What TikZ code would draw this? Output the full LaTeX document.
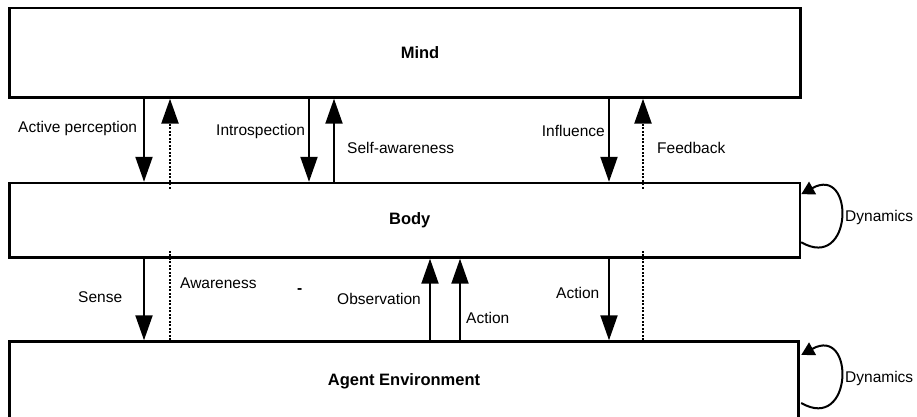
\documentclass[tikz,border=0pt]{standalone}
\usepackage{fontspec}
\setmainfont{Liberation Sans}
\usetikzlibrary{arrows.meta}
\begin{document}
\begin{tikzpicture}[x=1pt,y=1pt,
  box/.style={draw,line width=2.4pt,fill=white,inner sep=0pt,minimum width=791pt},
  arr/.style={line width=2pt,-{Triangle[width=17pt,length=25pt]}},
  dots/.style={line width=2.4pt,dash pattern=on 2pt off 1.5pt},
  darr/.style={dots,-{Triangle[width=17pt,length=25pt]}},
  loopar/.style={line width=2pt,-{Triangle[width=14pt,length=13pt]}},
  lbl/.style={inner sep=0pt,anchor=west,font=\fontsize{15.5}{18}\selectfont},
  title/.style={font=\fontsize{16.5}{19}\selectfont\bfseries}]
\useasboundingbox (0,0) rectangle (917,416);
% boxes
\node[box,minimum height=89.5pt,
  label={[title,xshift=15pt]center:Mind}] (mind) at (405,363.25) {};
\node[box,minimum width=790.5pt,minimum height=74.5pt,
  label={[title,xshift=5pt]center:Body}] (body) at (404.75,195.75) {};
\node[box,minimum width=789pt,minimum height=79pt,
  label={[title]center:Agent Environment}] (env) at (404,35) {};
% x positions
\coordinate (a1) at (144,0);
\coordinate (a2) at (170,0);
\coordinate (a3) at (309,0);
\coordinate (a4) at (334,0);
\coordinate (a5) at (609,0);
\coordinate (a6) at (643,0);
\coordinate (a7) at (430,0);
\coordinate (a8) at (460,0);
% mind <-> body
\draw[arr] (mind.south -| a1) -- (body.north -| a1);
\draw[darr] ([yshift=-7pt]body.north -| a2) -- (mind.south -| a2);
\draw[arr] (mind.south -| a3) -- (body.north -| a3);
\draw[arr] (body.north -| a4) -- (mind.south -| a4);
\draw[arr] (mind.south -| a5) -- (body.north -| a5);
\draw[darr] ([yshift=-7pt]body.north -| a6) -- (mind.south -| a6);
% body <-> env
\draw[arr] (body.south -| a1) -- (env.north -| a1);
\draw[dots] (env.north -| a2) -- ([yshift=8pt]body.south -| a2);
\draw[arr] (env.north -| a7) -- (body.south -| a7);
\draw[arr] (env.north -| a8) -- (body.south -| a8);
\draw[arr] (body.south -| a5) -- (env.north -| a5);
\draw[dots] (env.north -| a6) -- ([yshift=8pt]body.south -| a6);
% self loops
\draw[loopar] ([yshift=-22pt]body.east) .. controls +(52,-30) and +(54,30) .. ([yshift=26pt]body.east);
\draw[loopar] ([yshift=-22pt]env.east -| body.east) .. controls +(52,-30) and +(54,30) .. ([yshift=26pt]env.east -| body.east);
% labels
\node[lbl] (l1) at (18,288) {Active perception};
\node[lbl] (l2) at (216,285) {Introspection};
\node[lbl] (l3) at (347,268) {Self-awareness};
\node[lbl,anchor=east] (l4) at (605,285) {Influence};
\node[lbl] (l5) at (657,268) {Feedback};
\node[lbl] (l6) at (78,119) {Sense};
\node[lbl] (l7) at (180,133) {Awareness};
\node[lbl,font=\fontsize{15.5}{18}\selectfont\bfseries] (l8) at (297,125) {-};
\node[lbl] (l9) at (337,117) {Observation};
\node[lbl] (l10) at (466,98) {Action};
\node[lbl] (l11) at (556,123) {Action};
\node[lbl] (l12) at (845,199) {Dynamics};
\node[lbl] (l13) at (845,38) {Dynamics};
\end{tikzpicture}
\end{document}
